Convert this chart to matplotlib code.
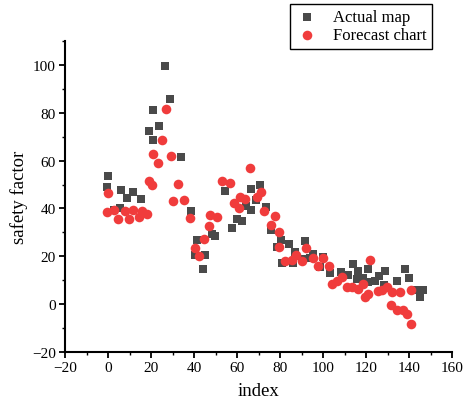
import matplotlib
matplotlib.use("Agg")
import matplotlib.pyplot as plt
from matplotlib.ticker import MultipleLocator

plt.rcParams['font.family'] = ['Liberation Serif', 'DejaVu Serif']

# Actual map (squares)
actual_x = [-0.3, 0.1, 2.8, 5.6, 6.2, 8.7, 11.7, 15.4, 19.1, 20.8, 20.8, 23.8,
            26.7, 28.6, 34.0, 38.7, 40.6, 41.5, 44.3, 45.2, 48.4, 49.6, 54.6,
            57.5, 59.8, 62.2, 64.2, 66.4, 66.7, 68.9, 70.6, 73.6, 75.7, 78.5,
            80.2, 80.8, 84.0, 86.1, 86.8, 90.2, 91.4, 93.8, 95.5, 98.4, 100.0,
            103.0, 108.2, 111.6, 114.0, 115.8, 116.3, 118.6, 120.7, 120.9,
            124.2, 126.1, 128.4, 129.0, 134.5, 138.2, 140.1, 142.7, 145.0, 146.6]
actual_y = [49.1, 53.5, 39.3, 40.4, 47.7, 44.4, 46.9, 43.9, 72.4, 81.0, 68.7, 74.5,
            99.4, 85.6, 61.4, 39.0, 20.5, 26.8, 14.9, 20.5, 29.3, 28.3, 47.3,
            31.7, 35.4, 34.6, 40.9, 39.3, 48.0, 43.7, 49.7, 40.7, 31.0, 24.1,
            26.9, 17.4, 25.1, 17.3, 21.9, 18.8, 26.4, 19.1, 20.9, 15.6, 19.7,
            13.0, 13.3, 12.4, 16.9, 10.5, 13.7, 10.8, 14.9, 9.2,
            9.6, 11.9, 7.9, 13.8, 9.6, 14.8, 10.9, 6.0, 2.8, 6.0]

# Forecast chart (circles)
forecast_x = [-0.3, 0.0, 2.8, 4.8, 7.9, 9.8, 11.7, 14.5, 16.0, 18.3, 19.1, 20.5,
              20.7, 23.3, 25.0, 26.9, 29.2, 30.0, 32.3, 35.4, 38.1, 40.4, 42.4,
              44.5, 46.8, 47.4, 50.5, 53.0, 56.6, 58.5, 60.8, 61.4, 63.8, 66.2,
              69.2, 70.9, 72.4, 75.6, 77.7, 79.3, 79.6, 82.4, 85.5, 87.2, 90.0,
              92.2, 95.1, 97.5, 100.0, 102.8, 104.2, 106.7, 108.8, 110.9, 113.5,
              116.3, 118.6, 119.4, 120.7, 122.0, 125.6, 127.6, 129.8, 132.1,
              136.0, 131.8, 134.5, 137.3, 139.2, 140.7, 140.7]
forecast_y = [38.6, 46.4, 39.3, 35.4, 38.9, 35.4, 39.3, 36.3, 39.0, 37.5, 51.6, 49.8,
              62.9, 59.1, 68.6, 81.6, 61.8, 43.3, 50.3, 43.4, 36.0, 23.3, 20.2,
              27.2, 32.8, 37.4, 36.5, 51.5, 50.6, 42.4, 40.0, 44.8, 43.8, 56.8,
              44.6, 46.7, 38.9, 33.2, 36.8, 30.0, 23.7, 18.0, 18.3, 20.5, 18.0,
              23.4, 19.2, 15.8, 19.1, 16.0, 8.5, 9.5, 11.3, 7.0, 7.0,
              6.3, 8.4, 3.2, 4.2, 18.4, 5.6, 6.0, 7.0, 5.1,
              5.0, -0.4, -2.5, -2.5, -4.3, 6.0, -8.2]

fig = plt.figure(figsize=(4.68, 4.06), dpi=100)
ax = fig.add_axes([0.139, 0.1305, 0.827, 0.766])

ax.scatter(actual_x, actual_y, marker='s', s=40, color='#4a4a4a',
           linewidths=0, label='Actual map', zorder=2)
ax.scatter(forecast_x, forecast_y, marker='o', s=48, color='#f03c3c',
           linewidths=0, label='Forecast chart', zorder=3)

ax.set_xlim(-20, 160)
ax.set_ylim(-20, 110)
ax.xaxis.set_major_locator(MultipleLocator(20))
ax.xaxis.set_minor_locator(MultipleLocator(10))
ax.yaxis.set_major_locator(MultipleLocator(20))
ax.yaxis.set_minor_locator(MultipleLocator(10))
ax.tick_params(which='major', direction='out', length=4, width=1.3,
               labelsize=11, pad=2.5)
ax.tick_params(which='minor', direction='out', length=2.5, width=1.0)

for side in ['top', 'right']:
    ax.spines[side].set_visible(False)
for side in ['left', 'bottom']:
    ax.spines[side].set_linewidth(1.5)

ax.set_xlabel('index', fontsize=13.5, labelpad=6)
ax.set_ylabel('safety factor', fontsize=13.5, labelpad=3)

leg = ax.legend(loc='upper left', bbox_to_anchor=(290 / 468, 1 - 5 / 406),
                bbox_transform=fig.transFigure, fontsize=12, frameon=True,
                fancybox=False, edgecolor='black', framealpha=1,
                borderpad=0.3, handletextpad=0.9, labelspacing=0.15,
                handlelength=1.4, borderaxespad=0)
leg.get_frame().set_linewidth(1.0)

fig.savefig('out.png', dpi=100)
